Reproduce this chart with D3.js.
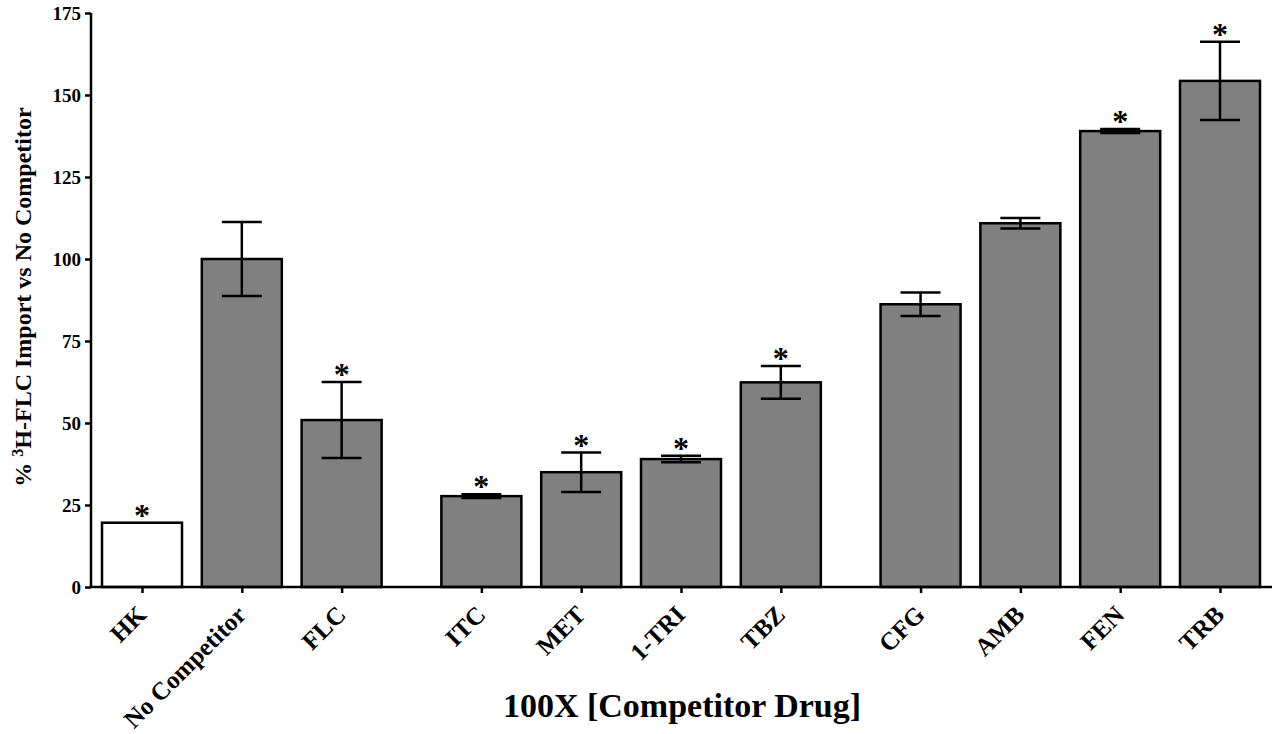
<!DOCTYPE html>
<html>
<head>
<meta charset="utf-8">
<script src="https://cdnjs.cloudflare.com/ajax/libs/d3/7.8.5/d3.min.js"></script>
<style>
  body { margin: 0; background: #fff; }
  text { font-family: "Liberation Serif", "Times New Roman", serif; font-weight: bold; }
</style>
</head>
<body>
<div id="chart"></div>
<script>
// data
var drugs  = ["HK", "No Competitor", "FLC", "ITC", "MET", "1-TRI", "TBZ", "CFG", "AMB", "FEN", "TRB"];
var groups = [0, 0, 0, 1, 1, 1, 1, 2, 2, 2, 2];
var means  = [19.6, 100, 50.9, 27.7, 35.0, 39.0, 62.4, 86.2, 110.9, 139.0, 154.3];
var errs   = [0, 11.3, 11.6, 0.6, 6.0, 1.0, 5.0, 3.6, 1.6, 0.6, 11.9];
var signif = [true, false, true, true, true, true, true, false, false, true, true];
var yTicks = [0, 25, 50, 75, 100, 125, 150, 175];

var width = 1280, height = 734;

var svg = d3.select("#chart")
	.append("svg")
		.attr("width", width)
		.attr("height", height);

// slot position: one slot per bar, plus 0.4 slot gap between groups
var slot = drugs.map(function(d, i) { return i + groups[i] * 0.4; });

var x = d3.scaleLinear().domain([0, 10.8]).range([142, 1220]);
var y = d3.scaleLinear().domain([0, 175]).range([587, 13]);
var barW = 80;

// bars
svg.selectAll("rect.bar")
	.data(drugs)
	.enter().append("rect")
		.attr("class", "bar")
		.attr("x", function(d, i) { return x(slot[i]) - barW / 2; })
		.attr("y", function(d, i) { return y(means[i]); })
		.attr("width", barW)
		.attr("height", function(d, i) { return y(0) - y(means[i]); })
		.attr("fill", function(d, i) { return i == 0 ? "#fff" : "#808080"; })
		.attr("stroke", "#000")
		.attr("stroke-width", 2.5);

// error bars
svg.selectAll("g.err")
	.data(drugs)
	.enter().append("g")
		.attr("class", "err")
		.attr("stroke", "#000")
		.attr("stroke-width", 2.5)
	.each(function(d, i) {
		if (errs[i] <= 0) return;
		var g = d3.select(this);
		var cx = x(slot[i]);
		var top = y(means[i] + errs[i]), bot = y(means[i] - errs[i]);
		g.append("line").attr("x1", cx).attr("x2", cx).attr("y1", top).attr("y2", bot);
		g.append("line").attr("x1", cx - 20).attr("x2", cx + 20).attr("y1", top).attr("y2", top);
		g.append("line").attr("x1", cx - 20).attr("x2", cx + 20).attr("y1", bot).attr("y2", bot);
	});

// asterisks
svg.selectAll("text.star")
	.data(drugs)
	.enter().append("text")
		.attr("class", "star")
		.attr("x", function(d, i) { return x(slot[i]); })
		.attr("y", function(d, i) { return y(means[i] + errs[i]) + 3; })
		.attr("text-anchor", "middle")
		.attr("font-size", 32)
		.text(function(d, i) { return signif[i] ? "*" : ""; });

// y axis
var yAxis = svg.append("g")
	.attr("transform", "translate(91,0)")
	.call(d3.axisLeft(y).tickValues(yTicks).tickSize(6).tickPadding(4));
yAxis.selectAll("path, line").attr("stroke", "#000").attr("stroke-width", 2.5);
yAxis.select("path").attr("d", "M0," + y(175) + "V" + y(0));
yAxis.selectAll("text").attr("font-size", 19).attr("fill", "#000")
	.style("font-family", "Liberation Serif").style("font-weight", "bold");

// x axis
var xAxis = svg.append("g")
	.attr("transform", "translate(0," + y(0) + ")")
	.call(d3.axisBottom(x).tickValues(slot).tickSize(6).tickFormat(function(d, i) { return drugs[i]; }));
xAxis.selectAll("path, line").attr("stroke", "#000").attr("stroke-width", 2.5);
xAxis.select("path").attr("d", "M91,0H1272");
xAxis.selectAll("text")
	.attr("font-size", 25).attr("fill", "#000")
	.style("font-family", "Liberation Serif").style("font-weight", "bold")
	.attr("text-anchor", "end")
	.attr("dy", "0.35em")
	.attr("transform", "translate(-1,23) rotate(-45)")
	.attr("y", 0).attr("x", 0);

// axis titles
svg.append("text")
	.attr("transform", "translate(31,297) rotate(-90)")
	.attr("text-anchor", "middle")
	.attr("font-size", 24)
	.html('% <tspan baseline-shift="super" font-size="16">3</tspan>H-FLC Import vs No Competitor');

svg.append("text")
	.attr("x", 682)
	.attr("y", 717)
	.attr("text-anchor", "middle")
	.attr("font-size", 34)
	.text("100X [Competitor Drug]");
</script>
</body>
</html>
